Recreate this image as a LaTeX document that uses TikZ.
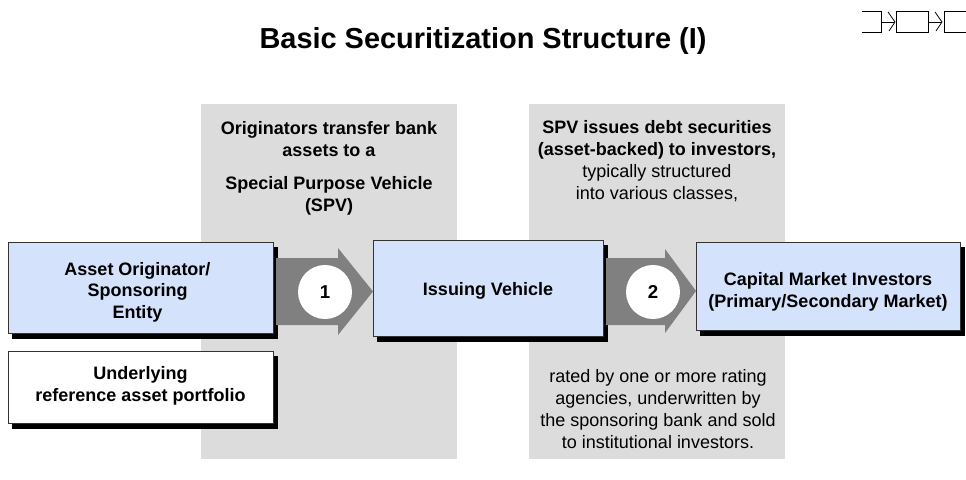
\documentclass[tikz,border=0pt]{standalone}
\usepackage{fontspec}
\setmainfont{Liberation Sans}
\usetikzlibrary{shadows,calc}
\definecolor{panelgray}{RGB}{220,220,220}
\definecolor{boxblue}{RGB}{212,226,252}
\definecolor{arrowgray}{RGB}{128,128,128}
\begin{document}
\begin{tikzpicture}[x=0.75pt,y=-0.75pt,
  every node/.style={inner sep=0pt,outer sep=0pt},
  panel/.style={fill=panelgray,draw=none},
  shbox/.style={draw=black!80,line width=0.6pt,
    general shadow={fill=black,draw=black,line width=0.6pt,shadow xshift=3.4pt,shadow yshift=-3.8pt}},
  bluebox/.style={shbox,fill=boxblue},
  whitebox/.style={shbox,fill=white},
  txt/.style={align=center,font=\fontsize{13.5}{16.5}\selectfont},
  btxt/.style={txt,font=\bfseries\fontsize{13.5}{16.5}\selectfont},
  boxtxt/.style={align=center,font=\bfseries\fontsize{13.5}{16.2}\selectfont},
  numcirc/.style={circle,fill=white,minimum size=40.5pt,font=\bfseries\fontsize{14}{16}\selectfont},
  bigarrow/.style={fill=arrowgray,draw=none},
  icon/.style={draw=black,line width=0.6pt}
]
\useasboundingbox (0,0) rectangle (966,479);
% title
\node[font=\bfseries\fontsize{21.7}{26}\selectfont] (title) at (483,41) {Basic Securitization Structure (I)};
% icon
\draw[icon] (862,11) -- (881,11) -- (881,32) -- (862,32);
\draw[icon] (881,22) -- (894,22);
\draw[icon] (888,12) -- (895,22) -- (889,31);
\draw[icon] (896,11) -- (928,11) -- (928,32) -- (896,32) -- cycle;
\draw[icon] (928,22) -- (941,22);
\draw[icon] (935,12) -- (942,22) -- (936,31);
\draw[icon] (966,11) -- (944,11) -- (944,32) -- (966,32);
% panels
\node[panel,minimum width=192pt,minimum height=266.25pt] (p1) at (329,281.5) {};
\node[panel,minimum width=192pt,minimum height=266.25pt] (p2) at (657,281.5) {};
% panel texts
\node[btxt] (t1) at (329,139) {Originators transfer bank\\assets to a};
\node[btxt] (t2) at (329,196) {Special Purpose Vehicle\\(SPV)};
\node[txt] (t3) at (657,161) {\textbf{SPV issues debt securities}\\\textbf{(asset-backed) to investors,}\\typically structured\\into various classes,};
\node[txt] (t4) at (658,409.5) {rated by one or more rating\\agencies, underwritten by\\the sponsoring bank and sold\\to institutional investors.};
% boxes
\node[bluebox,minimum width=198.75pt,minimum height=68.25pt] (asset) at (140.5,287.5) {};
\node[boxtxt] (assett) at (137.5,292) {Asset Originator/\\Sponsoring\\Entity};
\node[whitebox,minimum width=198.75pt,minimum height=54pt] (under) at (140.5,387) {};
\node[boxtxt] (undert) at (140.5,386) {Underlying\\reference asset portfolio};
\node[bluebox,minimum width=172.5pt,minimum height=72pt] (issue) at (488,288) {};
\node[boxtxt] (issuet) at (488,291) {Issuing Vehicle};
\node[bluebox,minimum width=198pt,minimum height=66pt] (cap) at (828,286) {};
\node[boxtxt] (capt) at (828,292) {Capital Market Investors\\(Primary/Secondary Market)};
% arrows
\fill[bigarrow] ($(asset.east)+(3,-29.5)$) -- (338,258) -- (338,248) -- (issue.west |- 0,291.5) -- (338,335) -- (338,325) -- ($(asset.east)+(3,37.5)$) -- cycle;
\fill[bigarrow] ($(issue.east)+(3,-30)$) -- (665,258) -- (665,249) -- (cap.west |- 0,291) -- (665,333) -- (665,325) -- ($(issue.east)+(3,37)$) -- cycle;
\node[numcirc] (c1) at (325,292) {1};
\node[numcirc] (c2) at (653,292) {2};
\end{tikzpicture}
\end{document}
